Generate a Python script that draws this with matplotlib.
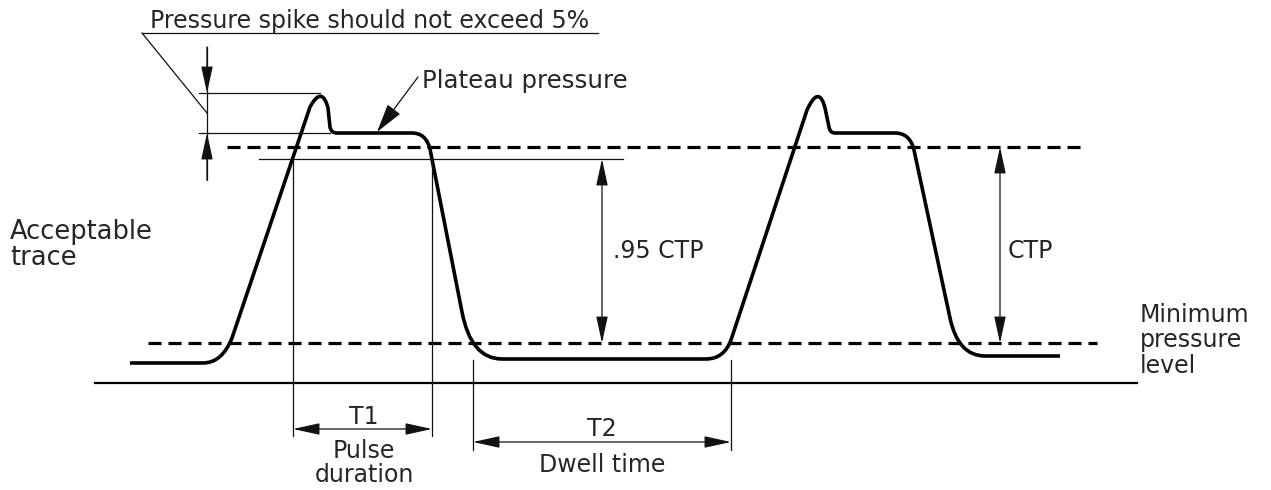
import matplotlib
matplotlib.use("Agg")
import matplotlib.pyplot as plt
from matplotlib.path import Path
from matplotlib.patches import PathPatch

# ---------------- data (diagram units: time -> right, pressure -> down) ----------------
# trace vertices and how each vertex is used (M=move, L=line, Q=quadratic control/end)
trace_t = [130, 203, 222, 232, 310, 322, 328, 330, 331, 337, 412, 426, 430, 462, 471, 502,
           706, 724, 731, 807, 819, 825, 829, 830, 835, 895, 910, 914, 950, 958, 985, 1060]
trace_p = [363, 363, 363, 338, 107, 85, 108, 127, 133, 133, 133, 133, 149, 312, 359, 359,
           359, 359, 340, 110, 84, 108, 127, 133, 133, 133, 133, 150, 318, 356, 356, 356]
trace_kind = ["M", "L", "Q", "Q", "L", "Q", "Q", "L", "Q", "Q", "L", "Q", "Q", "L", "Q", "Q",
              "L", "Q", "Q", "L", "Q", "Q", "L", "Q", "Q", "L", "Q", "Q", "L", "Q", "Q", "L"]

ctp_level = 147          # upper dashed line (CTP)
min_level = 343          # minimum pressure level (lower dashed)
ctp95_level = 159        # .95 CTP reference
spike_top = 93           # top of pressure spike band
plateau_level = 133      # plateau pressure
zero_level = 383         # time axis

upper_dash_span = [227, 1085]
lower_dash_span = [148, 1097]
axis_span = [95, 1137]
ctp95_span = [259, 623]

t1_edges = [293, 432]    # pulse duration
t2_edges = [473, 731]    # dwell time
dim95_t = 602
dimctp_t = 1000
spike_dim_t = 207

# ---------------- figure ----------------
fig = plt.figure(figsize=(12.71, 4.90), dpi=100)
ax = fig.add_axes([0, 0, 1, 1])
ax.set_xlim(0, 1271)
ax.set_ylim(490, 0)
ax.axis("off")

ink = "#111111"
txt = "#262626"
thin = 0.9
FS = 17

# trace
codes = []
for k in trace_kind:
    codes.append({"M": Path.MOVETO, "L": Path.LINETO, "Q": Path.CURVE3}[k])
trace_path = Path(list(zip(trace_t, trace_p)), codes)
ax.add_patch(PathPatch(trace_path, fill=False, lw=2.6, edgecolor="black",
                       joinstyle="round", capstyle="butt"))

# dashed levels
dash_lw = 2.3
ax.plot(upper_dash_span, [ctp_level, ctp_level], color="black", lw=dash_lw,
        dashes=(9.4 / dash_lw, 5.0 / dash_lw))
ax.plot(lower_dash_span, [min_level, min_level], color="black", lw=dash_lw,
        dashes=(9.4 / dash_lw, 5.0 / dash_lw))

# time axis
ax.plot(axis_span, [zero_level, zero_level], color="black", lw=1.6)

# .95 CTP line
ax.plot(ctp95_span, [ctp95_level, ctp95_level], color=ink, lw=thin)


def arrow(tail, tip, both=False, ms=10, hw=0.36):
    style = ("<|-|>" if both else "-|>") + ",head_length=1.65,head_width=%g" % hw
    ax.annotate("", xy=tip, xytext=tail, xycoords="data", textcoords="data",
                arrowprops=dict(arrowstyle=style, color=ink, lw=thin,
                                shrinkA=0, shrinkB=0, mutation_scale=ms))


# spike band dimension
ax.plot([199, 320], [spike_top, spike_top], color=ink, lw=thin)
ax.plot([199, 330], [plateau_level, plateau_level], color=ink, lw=thin)
ax.plot([spike_dim_t, spike_dim_t], [47, 180], color=ink, lw=thin)
arrow((spike_dim_t, 47), (spike_dim_t, spike_top))
arrow((spike_dim_t, 180), (spike_dim_t, plateau_level))
# leader + underline for the note
ax.plot([142, spike_dim_t], [33, 113], color=ink, lw=thin)
ax.plot([142, 598], [33, 33], color=ink, lw=thin)
ax.text(150, 28, "Pressure spike should not exceed 5%", fontsize=FS, color=txt,
        ha="left", va="baseline")

# plateau pressure callout
arrow((418, 77), (377, plateau_level - 1), ms=11, hw=0.45)
ax.text(422, 88, "Plateau pressure", fontsize=FS + 0.6, color=txt, ha="left", va="baseline")

# .95 CTP dimension
arrow((dim95_t, ctp95_level), (dim95_t, min_level), both=True)
ax.text(613, 258, ".95 CTP", fontsize=FS, color=txt, ha="left", va="baseline")

# CTP dimension
arrow((dimctp_t, ctp_level), (dimctp_t, min_level), both=True)
ax.text(1008, 258, "CTP", fontsize=FS, color=txt, ha="left", va="baseline")

# T1 pulse duration
for e in t1_edges:
    ax.plot([e, e], [160, 436], color=ink, lw=thin)
arrow((t1_edges[0], 429), (t1_edges[1], 429), both=True)
ax.text(364, 424, "T1", fontsize=FS, color=txt, ha="center", va="baseline")
ax.text(364, 458, "Pulse", fontsize=FS, color=txt, ha="center", va="baseline")
ax.text(364, 482, "duration", fontsize=FS, color=txt, ha="center", va="baseline")

# T2 dwell time
for e in t2_edges:
    ax.plot([e, e], [360, 450], color=ink, lw=thin)
arrow((t2_edges[0], 442), (t2_edges[1], 442), both=True)
ax.text(602, 436, "T2", fontsize=FS, color=txt, ha="center", va="baseline")
ax.text(602, 472, "Dwell time", fontsize=FS, color=txt, ha="center", va="baseline")

# side labels
ax.text(10, 239, "Acceptable", fontsize=FS + 1.5, color=txt, ha="left", va="baseline")
ax.text(10, 265, "trace", fontsize=FS + 1.5, color=txt, ha="left", va="baseline")
ax.text(1140, 322, "Minimum", fontsize=FS, color=txt, ha="left", va="baseline")
ax.text(1140, 347, "pressure", fontsize=FS, color=txt, ha="left", va="baseline")
ax.text(1140, 373, "level", fontsize=FS, color=txt, ha="left", va="baseline")

fig.savefig("out.png", dpi=100, facecolor="white")
